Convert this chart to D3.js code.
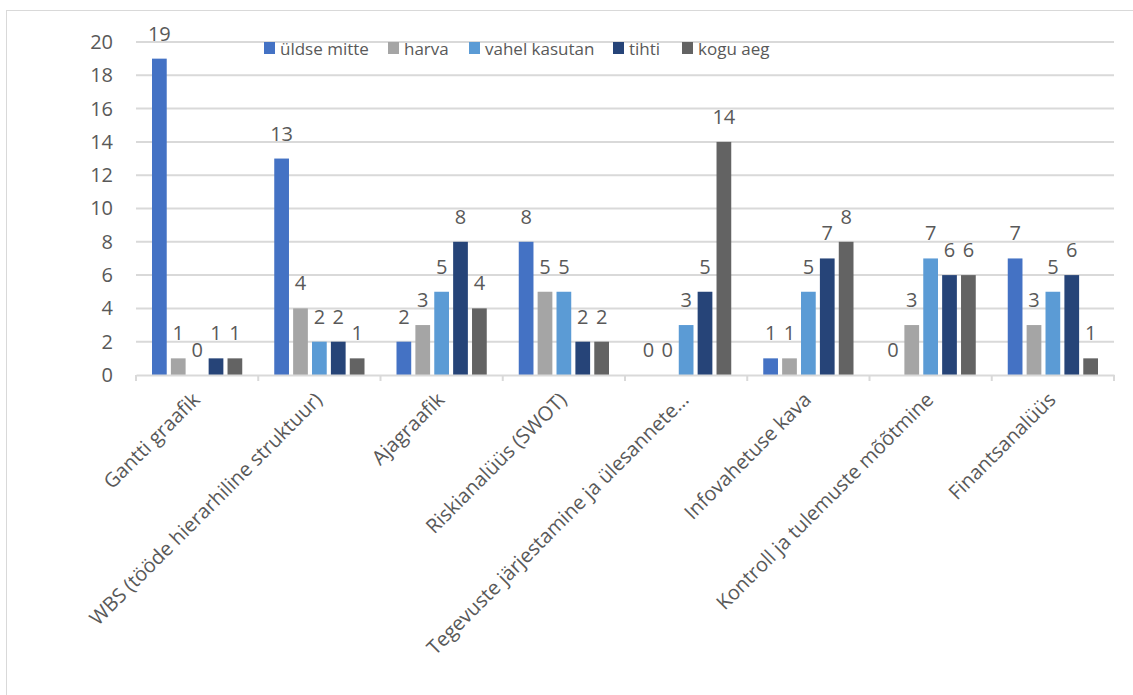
<!DOCTYPE html>
<html>
<head>
<meta charset="utf-8">
<script src="https://cdn.jsdelivr.net/npm/d3@7"></script>
<style>
  body { margin: 0; background: #fff; }
  text { font-family: "Open Sans", sans-serif; fill: #595959; }
</style>
</head>
<body>
<svg id="chart"></svg>
<script>
'use strict';

var categories = [
  'Gantti graafik',
  'WBS (tööde hierarhiline struktuur)',
  'Ajagraafik',
  'Riskianalüüs (SWOT)',
  'Tegevuste järjestamine ja ülesannete…',
  'Infovahetuse kava',
  'Kontroll ja tulemuste mõõtmine',
  'Finantsanalüüs'
];
var seriesNames = ['üldse mitte', 'harva', 'vahel kasutan', 'tihti', 'kogu aeg'];
var seriesColors = ['#4472C4', '#A5A5A5', '#5B9BD5', '#264478', '#636363'];
var uldseMitte = [19, 13, 2, 8, 0, 1, 0, 7];
var harva = [1, 4, 3, 5, 0, 1, 3, 3];
var vahelKasutan = [0, 2, 5, 5, 3, 5, 7, 5];
var tihti = [1, 2, 8, 2, 5, 7, 6, 6];
var koguAeg = [1, 1, 4, 2, 14, 8, 6, 1];
var yTicks = [0, 2, 4, 6, 8, 10, 12, 14, 16, 18, 20];

var seriesValues = [uldseMitte, harva, vahelKasutan, tihti, koguAeg];

var width = 1133,
  height = 695,
  margin = {'top': 42, 'left': 136, 'right': 19};

var svg = d3.select('#chart')
  .attr('width', width)
  .attr('height', height);

// outer chart frame
svg.append('rect')
  .attr('x', 6.5)
  .attr('y', 10.5)
  .attr('width', width + 10)
  .attr('height', height + 10)
  .attr('fill', 'none')
  .attr('stroke', '#d9d9d9');

var xScale = d3.scaleBand()
  .domain(categories)
  .range([margin.left, width - margin.right]);

var xInner = d3.scaleBand()
  .domain(seriesNames)
  .range([16, xScale.bandwidth() - 16])
  .paddingInner(0.22);

var yScale = d3.scaleLinear()
  .domain([0, 20])
  .range([375, margin.top]);

// gridlines
svg.append('g')
  .selectAll('line')
  .data(yTicks.filter(function (d) { return d > 0; }))
  .enter()
  .append('line')
  .attr('x1', margin.left)
  .attr('x2', width - margin.right)
  .attr('y1', function (d) { return yScale(d); })
  .attr('y2', function (d) { return yScale(d); })
  .attr('stroke', '#d9d9d9')
  .attr('stroke-width', 2);

// y axis labels
var yAxis = d3.axisLeft(yScale)
  .tickValues(yTicks)
  .tickSize(0)
  .tickPadding(0);

var yg = svg.append('g')
  .attr('transform', 'translate(113,0)')
  .call(yAxis);
yg.select('.domain').remove();
yg.selectAll('text')
  .attr('font-size', 20)
  .attr('font-family', '"Open Sans", sans-serif')
  .attr('fill', '#595959');

// bars
var groups = svg.append('g')
  .selectAll('g.cat')
  .data(categories)
  .enter()
  .append('g')
  .classed('cat', true)
  .attr('transform', function (d) {
    return 'translate(' + xScale(d) + ',0)';
  });

groups.each(function (cat, ci) {
  var g = d3.select(this);
  seriesNames.forEach(function (name, si) {
    var v = seriesValues[si][ci];
    g.append('rect')
      .attr('x', xInner(name))
      .attr('y', yScale(v))
      .attr('width', xInner.bandwidth())
      .attr('height', yScale(0) - yScale(v))
      .attr('fill', seriesColors[si]);
    g.append('text')
      .attr('x', xInner(name) + xInner.bandwidth() / 2)
      .attr('y', yScale(v) - 18)
      .attr('text-anchor', 'middle')
      .attr('font-size', 20)
      .attr('fill', '#404040')
      .text(v);
  });
});

// x axis
var xAxis = d3.axisBottom(xScale)
  .tickSize(0)
  .tickFormat('');

var xg = svg.append('g')
  .attr('transform', 'translate(0,' + yScale(0) + ')')
  .call(xAxis);
xg.select('.domain')
  .attr('stroke', '#d9d9d9')
  .attr('stroke-width', 2);

// category boundary ticks
var bounds = categories.map(function (c) { return xScale(c); }).concat([xScale.range()[1]]);
svg.append('g')
  .selectAll('line')
  .data(bounds)
  .enter()
  .append('line')
  .attr('x1', function (d) { return d; })
  .attr('x2', function (d) { return d; })
  .attr('y1', yScale(0))
  .attr('y2', yScale(0) + 6)
  .attr('stroke', '#d9d9d9')
  .attr('stroke-width', 2);

// category labels
svg.append('g')
  .selectAll('text')
  .data(categories)
  .enter()
  .append('text')
  .attr('transform', function (d) {
    return 'translate(' + (xScale(d) + xScale.bandwidth() / 2 + 4) + ',' + (yScale(0) + 26) + ') rotate(-45)';
  })
  .attr('text-anchor', 'end')
  .attr('font-size', 20)
  .attr('fill', '#595959')
  .text(function (d) { return d; });

// legend
var legendX = [264, 388, 469, 613, 682];
var legend = svg.append('g')
  .selectAll('g')
  .data(seriesNames)
  .enter()
  .append('g')
  .attr('transform', function (d, i) {
    return 'translate(' + legendX[i] + ',42)';
  });
legend.append('rect')
  .attr('width', 11)
  .attr('height', 12)
  .attr('y', 0)
  .attr('fill', function (d, i) { return seriesColors[i]; });
legend.append('text')
  .attr('x', 16)
  .attr('y', 13)
  .attr('font-size', 17)
  .attr('fill', '#595959')
  .text(function (d) { return d; });
</script>
</body>
</html>
